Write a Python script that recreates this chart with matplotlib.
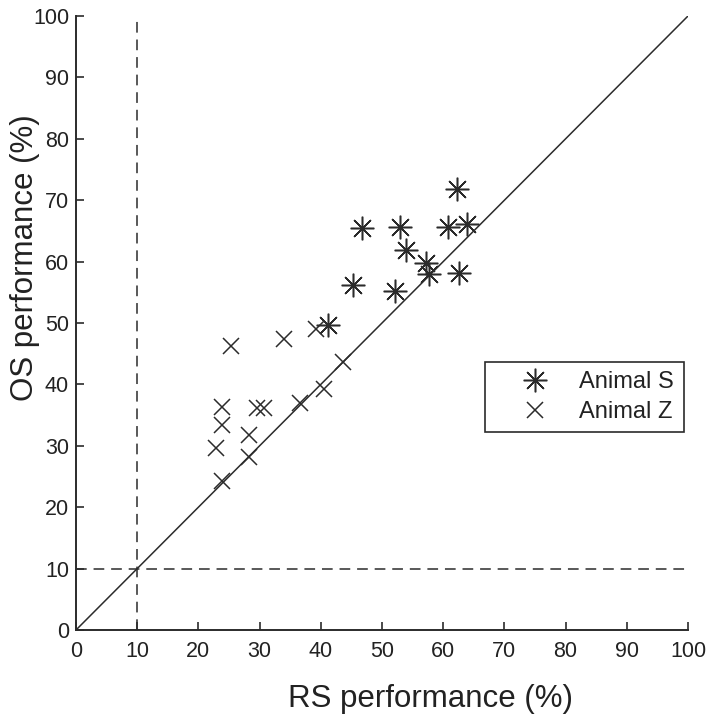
import matplotlib
matplotlib.use("Agg")
import matplotlib.pyplot as plt

plt.rcParams['font.family'] = ['Liberation Sans', 'DejaVu Sans']

# Animal S (asterisks)
s_rs = [62.2, 46.8, 52.9, 60.8, 63.9, 54.0, 57.2, 57.7, 62.6, 45.3, 52.2, 41.2]
s_os = [71.9, 65.4, 65.7, 65.7, 66.1, 61.9, 59.7, 57.9, 58.1, 56.2, 55.2, 49.7]
# Animal Z (crosses)
z_rs = [25.4, 34.0, 39.2, 43.7, 40.6, 36.6, 29.5, 30.7, 23.8, 23.8, 28.3, 22.9, 28.3, 23.9]
z_os = [46.3, 47.4, 49.1, 43.6, 39.2, 36.9, 36.1, 36.1, 36.4, 33.4, 31.8, 29.7, 28.2, 24.2]

chance = 10
ticks = [0, 10, 20, 30, 40, 50, 60, 70, 80, 90, 100]
xlabel = 'RS performance (%)'
ylabel = 'OS performance (%)'
labels = ['Animal S', 'Animal Z']

C = '#2b2b2b'
T = '#222222'
W, H = 712, 720
fig = plt.figure(figsize=(W / 100, H / 100), dpi=100)
ax = fig.add_axes([76 / W, 1 - 630 / H, 612 / W, 614 / H])

ax.plot([0, 100], [0, 100], color=C, lw=1.1, zorder=1)
ax.plot([chance, chance], [0, 100], color=C, lw=1.1, ls=(0, (7, 4.5)), zorder=1)
ax.plot([0, 100], [chance, chance], color=C, lw=1.1, ls=(0, (7, 4.5)), zorder=1)

ax.plot(s_rs, s_os, ls='none', marker=(8, 2, 0), ms=17, mew=1.1, mec=C, color=C,
        label=labels[0], zorder=3)
ax.plot(z_rs, z_os, ls='none', marker='x', ms=12, mew=1.1, mec=C, color=C,
        label=labels[1], zorder=3)

ax.set_xlim(0, 100)
ax.set_ylim(0, 100)
ax.set_xticks(ticks)
ax.set_yticks(ticks)
ax.spines['top'].set_visible(False)
ax.spines['right'].set_visible(False)
for sp in ['left', 'bottom']:
    ax.spines[sp].set_color(C)
    ax.spines[sp].set_linewidth(1.4)
ax.tick_params(direction='in', length=6, width=1.2, color=C, labelsize=15.5,
               labelcolor=T)
ax.tick_params(axis='x', pad=8)
ax.tick_params(axis='y', pad=5)

fig.text(431 / W, 1 - 707 / H, xlabel, fontsize=22.5, color=T,
         ha='center', va='baseline')
fig.text(33 / W, 1 - 258 / H, ylabel, fontsize=22.5, color=T, rotation=90,
         rotation_mode='anchor', ha='center', va='baseline')

leg = ax.legend(loc='upper left', bbox_to_anchor=((485 - 76) / 612, (630 - 362) / 614),
                fontsize=17, frameon=True, fancybox=False, edgecolor=C, framealpha=1,
                handlelength=3.4, handletextpad=0.2, borderpad=0.4,
                labelspacing=0.32, borderaxespad=0, markerfirst=True)
leg.get_frame().set_linewidth(1.2)
for t in leg.get_texts():
    t.set_color(T)

fig.savefig('out.png', dpi=100)
